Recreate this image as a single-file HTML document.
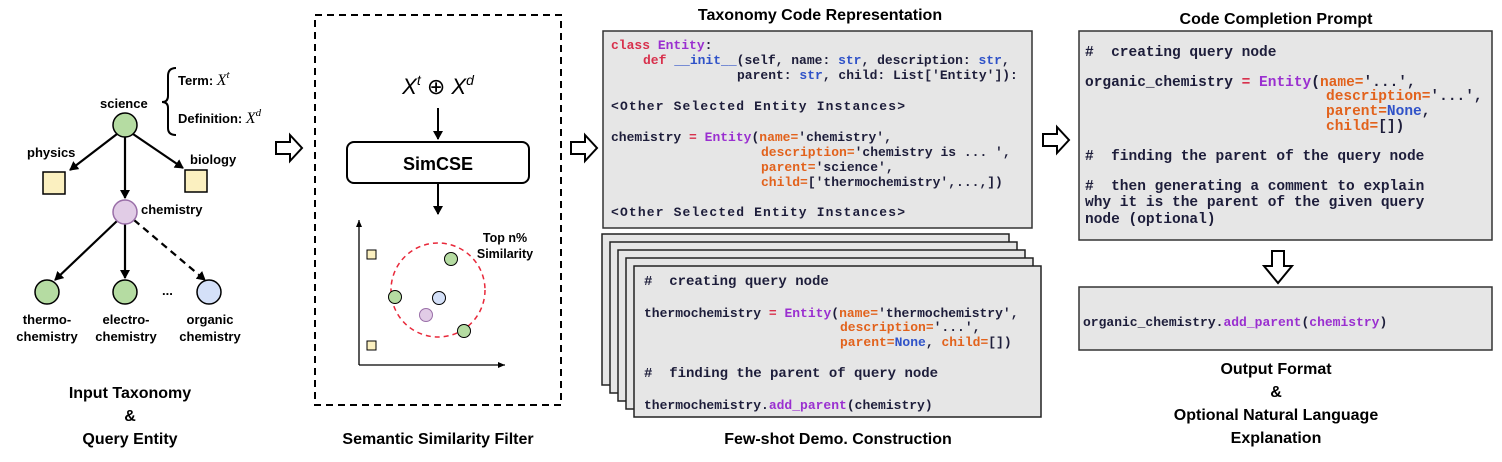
<!DOCTYPE html>
<html><head><meta charset="utf-8"><style>
body{margin:0;background:#fff}
svg text{font-family:"Liberation Sans",sans-serif}
svg .c text, svg text.c{font-family:"Liberation Mono",monospace;font-weight:bold;white-space:pre;fill:#1d1d3a}
.c tspan{font-family:"Liberation Mono",monospace}
.k{fill:#d8304c}.e{fill:#9a2fd0}.s{fill:#2f52c8}.o{fill:#e2621c}
.b{font-weight:bold;fill:#000}
</style></head><body>
<svg width="1502" height="457" viewBox="0 0 1502 457" xmlns="http://www.w3.org/2000/svg">
<defs>
<marker id="ah" markerWidth="10" markerHeight="10" refX="8" refY="5" orient="auto" markerUnits="userSpaceOnUse"><path d="M0,0 L9,5 L0,10 Z" fill="#000"/></marker>
<marker id="sa" markerWidth="8" markerHeight="8" refX="7" refY="4" orient="auto" markerUnits="userSpaceOnUse"><path d="M0,1 L7,4 L0,7 Z" fill="#000"/></marker>
</defs>
<g stroke="#000" stroke-width="2.2" fill="none">
<line x1="117" y1="134" x2="70" y2="170" marker-end="url(#ah)"/>
<line x1="133" y1="134" x2="183" y2="168" marker-end="url(#ah)"/>
<line x1="125" y1="137" x2="125" y2="198" marker-end="url(#ah)"/>
<line x1="117" y1="221" x2="55" y2="280" marker-end="url(#ah)"/>
<line x1="125" y1="224" x2="125" y2="278" marker-end="url(#ah)"/>
<line x1="134" y1="220" x2="205" y2="280" stroke-dasharray="7,5" marker-end="url(#ah)"/>
</g>
<circle cx="125" cy="125" r="12" fill="#b5dca2" stroke="#000" stroke-width="1.5"/>
<circle cx="125" cy="212" r="12" fill="#e1cce6" stroke="#9a6fa8" stroke-width="1.5"/>
<circle cx="47" cy="292" r="12" fill="#b5dca2" stroke="#000" stroke-width="1.5"/>
<circle cx="125" cy="292" r="12" fill="#b5dca2" stroke="#000" stroke-width="1.5"/>
<circle cx="209" cy="292" r="12" fill="#d4e0f8" stroke="#000" stroke-width="1.5"/>
<rect x="43" y="172" width="22" height="22" fill="#fbf0c0" stroke="#000" stroke-width="1.5"/>
<rect x="185" y="170" width="22" height="22" fill="#fbf0c0" stroke="#000" stroke-width="1.5"/>
<path d="M176,68 Q168,68 168,76 L168,96 Q168,102 162,102 Q168,102 168,108 L168,128 Q168,135 176,135" fill="none" stroke="#000" stroke-width="2"/>
<g class="b" font-size="13">
<text x="100" y="108">science</text>
<text x="178" y="85">Term: <tspan font-family="Liberation Serif" font-style="italic" font-weight="normal" font-size="16">X</tspan><tspan font-family="Liberation Serif" font-style="italic" font-weight="normal" font-size="11" dy="-7">t</tspan></text>
<text x="178" y="123">Definition: <tspan font-family="Liberation Serif" font-style="italic" font-weight="normal" font-size="16">X</tspan><tspan font-family="Liberation Serif" font-style="italic" font-weight="normal" font-size="11" dy="-7">d</tspan></text>
<text x="27" y="157">physics</text>
<text x="190" y="164">biology</text>
<text x="141" y="214">chemistry</text>
<text x="162" y="295">...</text>
<text x="47" y="324" text-anchor="middle">thermo-</text>
<text x="47" y="341" text-anchor="middle">chemistry</text>
<text x="126" y="324" text-anchor="middle">electro-</text>
<text x="126" y="341" text-anchor="middle">chemistry</text>
<text x="210" y="324" text-anchor="middle">organic</text>
<text x="210" y="341" text-anchor="middle">chemistry</text>
</g>
<g class="b" font-size="16" text-anchor="middle">
<text x="130" y="398">Input Taxonomy</text>
<text x="130" y="421">&amp;</text>
<text x="130" y="444">Query Entity</text>
</g>
<g fill="#fff" stroke="#000" stroke-width="2">
<path d="M276,142 L290,142 L290,135 L302,148 L290,161 L290,154 L276,154 Z"/>
<path d="M571,142 L585,142 L585,135 L597,148 L585,161 L585,154 L571,154 Z"/>
<path d="M1043,134 L1057,134 L1057,127 L1069,140 L1057,153 L1057,146 L1043,146 Z"/>
<path d="M1272,251 L1284,251 L1284,266 L1292,266 L1278,283 L1264,266 L1272,266 Z"/>
</g>
<rect x="315" y="15" width="246" height="390" fill="none" stroke="#000" stroke-width="2" stroke-dasharray="7,5"/>
<text x="438" y="94" text-anchor="middle" font-family="Liberation Serif" font-size="22" font-style="italic">X<tspan font-size="14" dy="-9">t</tspan><tspan dy="9" font-style="normal"> ⊕ </tspan>X<tspan font-size="14" dy="-9">d</tspan></text>
<line x1="438" y1="108" x2="438" y2="139" stroke="#000" stroke-width="2" marker-end="url(#ah)"/>
<rect x="347" y="142" width="182" height="41" rx="7" fill="#fff" stroke="#000" stroke-width="2"/>
<text x="438" y="170" text-anchor="middle" class="b" font-size="18">SimCSE</text>
<line x1="438" y1="183" x2="438" y2="214" stroke="#000" stroke-width="2" marker-end="url(#ah)"/>
<line x1="359" y1="365" x2="359" y2="220" stroke="#000" stroke-width="1.3" marker-end="url(#sa)"/>
<line x1="359" y1="365" x2="505" y2="365" stroke="#000" stroke-width="1.3" marker-end="url(#sa)"/>
<circle cx="438" cy="290" r="47" fill="none" stroke="#e8283a" stroke-width="1.5" stroke-dasharray="5,4"/>
<rect x="367" y="250" width="9" height="9" fill="#fbf0c0" stroke="#000"/>
<rect x="367" y="341" width="9" height="9" fill="#fbf0c0" stroke="#000"/>
<g stroke="#000">
<circle cx="451" cy="259" r="6.5" fill="#b5dca2"/>
<circle cx="395" cy="297" r="6.5" fill="#b5dca2"/>
<circle cx="439" cy="298" r="6.5" fill="#d4e0f8"/>
<circle cx="426" cy="315" r="6.5" fill="#e1cce6" stroke="#9a6fa8"/>
<circle cx="464" cy="331" r="6.5" fill="#b5dca2"/>
</g>
<text x="505" y="242" text-anchor="middle" class="b" font-size="12.5">Top n%</text>
<text x="505" y="258" text-anchor="middle" class="b" font-size="12.5">Similarity</text>
<text x="438" y="444" text-anchor="middle" class="b" font-size="16">Semantic Similarity Filter</text>
<text x="820" y="20" text-anchor="middle" class="b" font-size="16">Taxonomy Code Representation</text>
<rect x="603" y="31" width="429" height="197" fill="#e6e6e6" stroke="#333" stroke-width="1.5"/>
<g class="c" font-size="13">
<text x="611" y="49"><tspan class="k">class</tspan> <tspan class="e">Entity</tspan>:</text>
<text x="643" y="64"><tspan class="k">def</tspan> <tspan class="s">__init__</tspan>(self, name: <tspan class="s">str</tspan>, description: <tspan class="s">str</tspan>,</text>
<text x="737" y="79">parent: <tspan class="s">str</tspan>, child: List['Entity']):</text>
<text x="611" y="110" textLength="294">&lt;Other Selected Entity Instances&gt;</text>
<text x="611" y="141">chemistry <tspan class="k">=</tspan> <tspan class="e">Entity</tspan>(<tspan class="o">name=</tspan>'chemistry',</text>
<text x="761" y="156"><tspan class="o">description=</tspan>'chemistry is ... ',</text>
<text x="761" y="171"><tspan class="o">parent=</tspan>'science',</text>
<text x="761" y="186"><tspan class="o">child=</tspan>['thermochemistry',...,])</text>
<text x="611" y="216" textLength="294">&lt;Other Selected Entity Instances&gt;</text>
</g>
<g fill="#e6e6e6" stroke="#222" stroke-width="1.5">
<rect x="602" y="234" width="407" height="151"/>
<rect x="610" y="242" width="407" height="151"/>
<rect x="618" y="250" width="407" height="151"/>
<rect x="626" y="258" width="407" height="151"/>
<rect x="634" y="266" width="407" height="151"/>
</g>
<g class="c" font-size="13">
<text x="644" y="285" font-size="14">#  creating query node</text>
<text x="644" y="317">thermochemistry <tspan class="k">=</tspan> <tspan class="e">Entity</tspan>(<tspan class="o">name=</tspan>'thermochemistry',</text>
<text x="840" y="331"><tspan class="o">description=</tspan>'...',</text>
<text x="840" y="346"><tspan class="o">parent=</tspan><tspan class="s">None</tspan>, <tspan class="o">child=</tspan>[])</text>
<text x="644" y="377" font-size="14">#  finding the parent of query node</text>
<text x="644" y="409">thermochemistry.<tspan class="e">add_parent</tspan>(chemistry)</text>
</g>
<text x="838" y="444" text-anchor="middle" class="b" font-size="16">Few-shot Demo. Construction</text>
<text x="1276" y="24" text-anchor="middle" class="b" font-size="16">Code Completion Prompt</text>
<rect x="1079" y="31" width="413" height="209" fill="#e6e6e6" stroke="#333" stroke-width="1.5"/>
<g class="c" font-size="14.5">
<text x="1085" y="56">#  creating query node</text>
<text x="1085" y="86">organic_chemistry <tspan class="k">=</tspan> <tspan class="e">Entity</tspan>(<tspan class="o">name=</tspan>'...',</text>
<text x="1326" y="100"><tspan class="o">description=</tspan>'...',</text>
<text x="1326" y="115"><tspan class="o">parent=</tspan><tspan class="s">None</tspan>,</text>
<text x="1326" y="130"><tspan class="o">child=</tspan>[])</text>
<text x="1085" y="160">#  finding the parent of the query node</text>
<text x="1085" y="190">#  then generating a comment to explain</text>
<text x="1085" y="206">why it is the parent of the given query</text>
<text x="1085" y="223">node (optional)</text>
</g>
<rect x="1079" y="287" width="413" height="63" fill="#e6e6e6" stroke="#333" stroke-width="1.5"/>
<g class="c" font-size="13"><text x="1083" y="326">organic_chemistry.<tspan class="e">add_parent</tspan>(<tspan class="e">chemistry</tspan>)</text></g>
<g class="b" font-size="16" text-anchor="middle">
<text x="1276" y="374">Output Format</text>
<text x="1276" y="397">&amp;</text>
<text x="1276" y="420">Optional Natural Language</text>
<text x="1276" y="443">Explanation</text>
</g>
</svg>
</body></html>
